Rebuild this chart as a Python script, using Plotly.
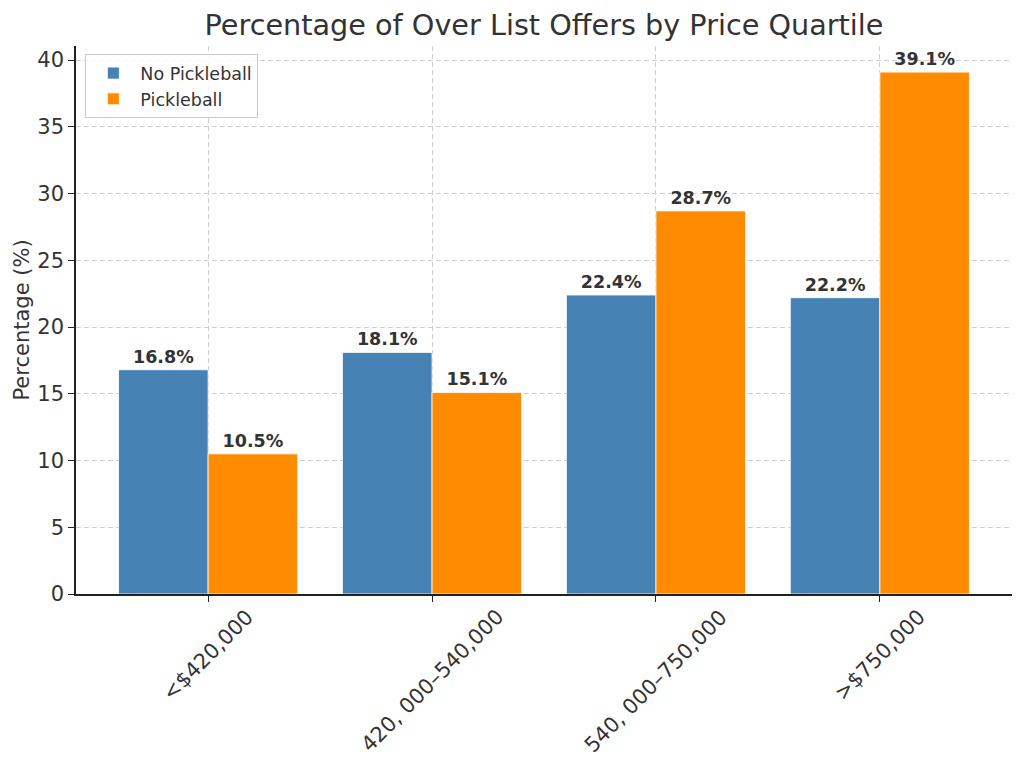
import plotly.graph_objects as go

categories = ["<$420,000", "420, 000–540,000", "540, 000–750,000", ">$750,000"]
no_pickleball = [16.8, 18.1, 22.4, 22.2]
pickleball = [10.5, 15.1, 28.7, 39.1]
series_names = ["No Pickleball", "Pickleball"]
y_ticks = [0, 5, 10, 15, 20, 25, 30, 35, 40]

FONT = "DejaVu Sans"
TXT = "#333333"
GRID = "#cfcfcf"

fig = go.Figure()
for name, vals, color in [(series_names[0], no_pickleball, "#4682B4"),
                          (series_names[1], pickleball, "#FF8C00")]:
    fig.add_trace(go.Bar(
        x=list(range(len(categories))), y=vals, name=name,
        marker=dict(color=color, line=dict(color="white", width=0.8)),
        text=[f"{v:.1f}%" for v in vals], textposition="outside",
        textfont=dict(family=FONT, size=17.5, color=TXT, weight="bold"),
        cliponaxis=False,
    ))

# category labels rotated 45 deg, centred under each tick (matplotlib style)
annotations = [
    dict(x=i, y=0, xref="x", yref="paper", text=lab, showarrow=False,
         textangle=-45, xanchor="center", yanchor="top", yshift=-8,
         font=dict(family=FONT, size=21, color=TXT))
    for i, lab in enumerate(categories)
]

fig.update_layout(
    width=1016, height=757,
    paper_bgcolor="white", plot_bgcolor="white",
    barmode="group", bargap=0.2, bargroupgap=0,
    margin=dict(l=68, r=12, t=38, b=171),
    font=dict(family=FONT, color=TXT),
    title=dict(text="Percentage of Over List Offers by Price Quartile",
               x=0.5, xref="paper", xanchor="center", y=0.978, yanchor="middle",
               font=dict(size=28.7, color=TXT, family=FONT)),
    legend=dict(x=0.01, y=0.985, xanchor="left", yanchor="top",
                bgcolor="rgba(255,255,255,0.8)", bordercolor="#cccccc", borderwidth=1,
                font=dict(size=17.5, color=TXT, family=FONT), itemwidth=44),
    showlegend=True,
    annotations=annotations,
)
fig.update_xaxes(
    range=[-0.59, 3.59], tickmode="array", tickvals=list(range(len(categories))),
    showticklabels=False, automargin=False,
    showgrid=True, gridcolor=GRID, griddash="5px,3px", gridwidth=1,
    showline=True, linecolor="#222222", linewidth=1.5,
    ticks="outside", ticklen=6, tickcolor="#222222", zeroline=False,
)
fig.update_yaxes(
    range=[0, 41.055], tickmode="array", tickvals=y_ticks, automargin=False,
    tickfont=dict(size=21, color=TXT, family=FONT),
    title=dict(text="Percentage (%)", font=dict(size=21, color=TXT, family=FONT), standoff=2),
    showgrid=True, gridcolor=GRID, griddash="5px,3px", gridwidth=1,
    showline=True, linecolor="#222222", linewidth=1.5,
    ticks="outside", ticklen=6, tickcolor="#222222", zeroline=False,
)

fig.write_html("out.html")
